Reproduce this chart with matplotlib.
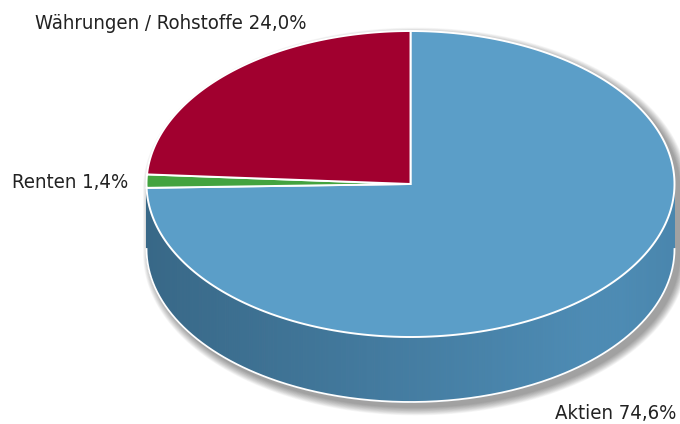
import matplotlib
matplotlib.use('Agg')
import matplotlib.pyplot as plt
from matplotlib import font_manager
from matplotlib.patches import Polygon
import numpy as np

LABELS = ['Aktien', 'Renten', 'Währungen / Rohstoffe']
VALUES = [74.6, 1.4, 24.0]
TOP_COLORS = ['#5b9ec8', '#43a33f', '#a1002f']
SIDE_LEFT = ['#386887', '#2f7a2c', '#7a0024']
SIDE_RIGHT = ['#4d8bb4', '#3a8f37', '#8c0028']

# geometry in pixels
CX, CY = 410.5, 184.0
RX, RY = 264.0, 153.0
DEPTH = 65.0
TEXT = '#222222'

# narrow font if one is around, else Lato
condensed = [f for f in font_manager.fontManager.ttflist
             if f.name == 'DejaVu Sans' and f.stretch == 'condensed' and f.weight in (400, 'normal')]
if condensed:
    FONT = dict(family='DejaVu Sans', stretch='condensed', fontsize=14.6)
else:
    FONT = dict(family='Lato', fontsize=15)


def pt(t, dy=0.0):
    return CX + RX * np.cos(t), CY - RY * np.sin(t) + dy


def mix(c1, c2, f):
    a = np.array(matplotlib.colors.to_rgb(c1))
    b = np.array(matplotlib.colors.to_rgb(c2))
    return tuple(a + (b - a) * f)


fig = plt.figure(figsize=(6.8, 4.24), dpi=100)
ax = fig.add_axes([0, 0, 1, 1])
ax.set_xlim(0, 680)
ax.set_ylim(424, 0)
ax.axis('off')

# soft shadow of the whole silhouette, shifted down-right
tu = np.linspace(0, np.pi, 200)
td = np.linspace(np.pi, 2 * np.pi, 200)
for k in range(12, 0, -1):
    rx, ry = RX + k * 0.7, RY + k * 0.7
    sx = np.concatenate([CX + 5 + rx * np.cos(tu), CX + 5 + rx * np.cos(td)])
    sy = np.concatenate([CY + 5 - ry * np.sin(tu), CY + 5 + DEPTH - ry * np.sin(td)])
    ax.add_patch(Polygon(np.column_stack([sx, sy]), closed=True, facecolor='black',
                         edgecolor='none', alpha=0.035, zorder=1))

# slice angles, clockwise from 12 o'clock
fracs = np.array(VALUES) / np.sum(VALUES)
bounds = np.pi / 2 - 2 * np.pi * np.concatenate([[0], np.cumsum(fracs)])

# side wall (front half only)
for i in range(len(VALUES)):
    t0, t1 = bounds[i + 1], bounds[i]
    lo, hi = max(t0, -np.pi), min(t1, 0.0)
    if hi - lo < 0.04:
        continue
    lo = -np.pi if lo < -np.pi + 0.04 else lo
    ts = np.linspace(lo, hi, max(2, int((hi - lo) / 0.01)))
    for a, b in zip(ts[:-1], ts[1:]):
        xa, ya = pt(a)
        xb, yb = pt(b)
        f = ((xa + xb) / 2 - (CX - RX)) / (2 * RX)
        col = mix(SIDE_LEFT[i], SIDE_RIGHT[i], min(1, f * 1.2))
        if f > 0.9:
            col = mix(col, SIDE_LEFT[i], (f - 0.9) * 1.5)
        ax.add_patch(Polygon([(xa, ya), (xb, yb), (xb, yb + DEPTH), (xa, ya + DEPTH)],
                             closed=True, facecolor=col, edgecolor=col, lw=0.6, zorder=2))

# white rim along the bottom of the side wall
tb = np.linspace(-np.pi, 0, 300)
bx, by = pt(tb, DEPTH)
ax.plot(bx, by, color='white', lw=1.3, zorder=3)

# top face
for i in range(len(VALUES)):
    ts = np.linspace(bounds[i + 1], bounds[i], 200)
    xs, ys = pt(ts)
    verts = [(CX, CY)] + list(zip(xs, ys))
    ax.add_patch(Polygon(verts, closed=True, facecolor=TOP_COLORS[i], edgecolor='white',
                         lw=1.4, joinstyle='miter', zorder=4))

# labels
ax.text(35, 29, f'{LABELS[2]} {VALUES[2]:.1f}%'.replace('.', ','),
        color=TEXT, ha='left', va='baseline', zorder=5, **FONT)
ax.text(128, 188, f'{LABELS[1]} {VALUES[1]:.1f}%'.replace('.', ','),
        color=TEXT, ha='right', va='baseline', zorder=5, **FONT)
ax.text(676, 419, f'{LABELS[0]} {VALUES[0]:.1f}%'.replace('.', ','),
        color=TEXT, ha='right', va='baseline', zorder=5, **FONT)

fig.savefig('out.png', dpi=100)
